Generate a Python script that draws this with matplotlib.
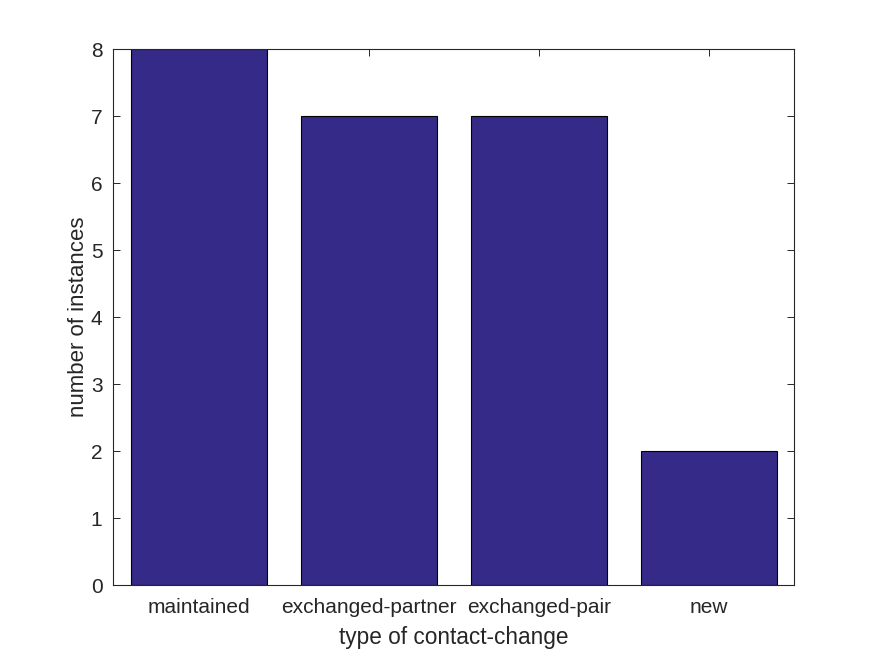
import matplotlib
matplotlib.use("Agg")
import matplotlib.pyplot as plt

categories = ["maintained", "exchanged-partner", "exchanged-pair", "new"]
counts = [8, 7, 7, 2]

plt.rcParams['font.family'] = ['Liberation Sans', 'DejaVu Sans']
fig = plt.figure(figsize=(8.75, 6.56), dpi=100)
ax = fig.add_axes([0.1297, 0.108, 0.778, 0.817])

x = list(range(1, len(categories) + 1))
ax.bar(x, counts, width=0.8, color='#352A87', edgecolor='black', linewidth=0.8, zorder=2)

ax.set_xlim(0.5, 4.5)
ax.set_ylim(0, 8)
ax.set_xticks(x)
ax.set_xticklabels(categories)
ax.set_yticks(range(0, 9))
ax.tick_params(direction='in', top=True, right=True, length=5, width=0.7,
               colors='#262626', labelsize=15)
ax.tick_params(axis='x', pad=9)
ax.tick_params(axis='y', pad=8)
for s in ax.spines.values():
    s.set_color('#262626')
    s.set_linewidth(0.8)
ax.set_xlabel("type of contact-change", fontsize=16.3, color='#262626', labelpad=7)
ax.set_ylabel("number of instances", fontsize=16, color='#262626', labelpad=1.5)

fig.savefig("out.png", dpi=100)
